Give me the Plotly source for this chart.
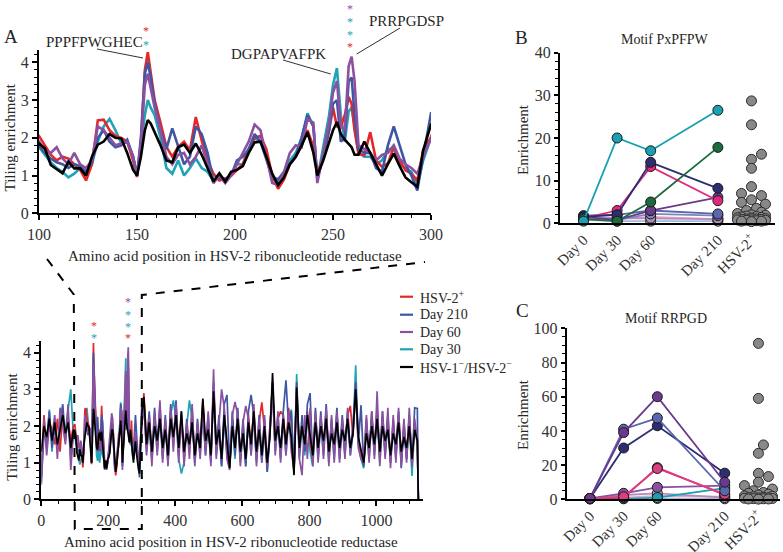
import plotly.graph_objects as go

W, H = 783, 552
FONT = "Liberation Serif"
TXT = "#262626"

# ---------------- Panel A data: tiling enrichment along HSV-2 ribonucleotide reductase ----------------
pos_start = [0, 8, 16, 24, 32, 40, 48, 56, 64, 72, 80, 88, 96]
pos_zoom = [100, 103, 106, 109, 112, 115, 118, 121, 124, 127, 130, 133, 136, 139, 142, 145, 148, 150, 152, 154,
            155.5, 157, 159, 162, 165, 168, 171, 174, 177, 180, 183, 186, 189, 192, 195, 198, 201, 204, 207, 210,
            213, 216, 219, 222, 225, 228, 231, 234, 237, 240, 242, 245, 248, 250, 252, 254, 256, 258, 259.5, 261,
            263, 266, 269, 272, 275, 278, 281, 284, 287, 290, 293, 296, 300]
pos_rest = list(range(306, 1123, 8)) + [1125]

red_start = [0.9, 2.3, 1.4, 2.1, 1.9, 1.5, 2.2, 1.3, 2.4, 1.7, 2.2, 1.6, 2.0]
red_zoom = [2.05, 1.8, 1.55, 1.4, 1.5, 1.45, 1.3, 1.15, 0.87, 1.3, 2.46, 2.48, 2.2, 2.05, 2.0, 1.9, 1.4, 0.96, 1.9, 3.79,
            4.27, 3.7, 3.0, 2.4, 1.76, 1.5, 1.76, 1.9, 1.67, 2.55, 1.93, 1.4, 1.05, 0.87, 0.92, 1.0, 1.15, 1.3, 1.7, 2.0,
            2.05, 1.7, 1.0, 0.65, 0.9, 1.3, 1.5, 1.8, 2.2, 1.76, 1.05, 1.5, 2.2, 2.8, 2.3, 2.3, 2.6, 3.08, 2.9, 2.2,
            1.58, 1.54, 2.15, 1.4, 1.23, 1.32, 1.76, 1.4, 1.14, 1.05, 0.87, 1.67, 2.02]
red_rest = [2.9, 1.6, 2.3, 1.2, 2.2, 1.5, 2.4, 1.3, 2.1, 1.1, 2.4, 1.6, 2.5, 1.3, 2.2, 1.2, 2.0, 1.4, 2.3, 1.1,
            2.0, 1.5, 2.7, 1.4, 2.1, 1.1, 3.1, 1.4, 2.1, 1.0, 2.4, 1.3, 0.9, 2.2, 1.3, 2.4, 1.2, 2.0, 1.0, 2.3,
            1.4, 2.5, 1.2, 2.1, 2.65, 1.9, 0.9, 1.8, 3.2, 1.5, 2.2, 2.4, 2.3, 1.4, 2.5, 1.6, 0.8, 3.1, 1.3, 2.1,
            1.4, 2.4, 1.6, 1.1, 2.3, 1.3, 2.2, 1.5, 2.4, 1.2, 2.0, 1.4, 2.3, 1.3, 2.1, 1.5, 2.3, 2.55, 1.7, 3.1,
            1.6, 1.2, 0.95, 2.0, 1.3, 2.2, 1.4, 2.4, 1.2, 2.2, 1.5, 2.1, 1.1, 2.0, 1.4, 2.3, 1.2, 1.9, 1.3, 2.2,
            1.0, 2.0, 1.7, 0.0]

blue_start = [0.6, 1.9, 1.5, 2.4, 1.4, 2.0, 1.3, 2.1, 2.6, 1.6, 2.3, 1.1, 1.8]
blue_zoom = [1.8, 1.6, 1.45, 1.35, 1.3, 1.2, 1.3, 1.25, 1.1, 1.35, 2.0, 2.2, 1.9, 1.75, 1.8, 1.95, 1.5, 1.0, 2.0, 3.7,
             4.0, 3.6, 2.9, 2.2, 1.7, 2.25, 1.75, 1.3, 1.5, 2.3, 2.1, 1.6, 0.85, 0.95, 0.9, 1.0, 1.4, 1.5, 1.7, 2.1,
             1.9, 1.4, 0.95, 0.9, 1.1, 1.3, 1.5, 2.0, 2.6, 2.3, 0.9, 1.5, 2.2, 2.9, 3.0, 1.9, 2.0, 3.5, 3.6, 2.6,
             1.7, 1.6, 1.6, 1.2, 1.1, 1.8, 2.3, 1.8, 1.3, 1.0, 0.6, 1.5, 2.65]
blue_rest = [2.6, 1.4, 2.4, 1.1, 2.5, 1.4, 2.6, 1.2, 2.3, 1.0, 2.6, 1.5, 2.7, 1.2, 2.3, 1.1, 2.2, 1.3, 2.5, 1.0,
             2.2, 1.3, 2.5, 1.3, 2.3, 1.0, 3.2, 1.3, 2.3, 0.9, 2.6, 2.85, 0.9, 2.4, 1.2, 2.5, 1.1, 2.2, 0.9, 2.4,
             2.85, 2.3, 1.1, 2.3, 1.1, 2.2, 0.75, 2.0, 3.0, 1.4, 2.3, 1.2, 2.4, 3.25, 2.0, 2.4, 0.75, 3.2, 1.2, 2.3,
             1.3, 2.6, 2.9, 1.0, 2.5, 1.2, 2.4, 1.3, 2.6, 1.1, 2.2, 1.3, 2.5, 1.2, 2.3, 1.3, 2.4, 1.3, 2.0, 3.2,
             1.5, 2.57, 0.9, 2.2, 1.2, 2.4, 1.3, 2.5, 1.1, 2.4, 1.3, 2.3, 1.0, 2.2, 1.2, 2.4, 0.85, 2.1, 1.1, 2.3,
             0.9, 2.5, 2.48, 0.0]

purple_start = [0.4, 2.2, 1.2, 2.0, 1.7, 2.3, 1.1, 2.5, 2.0, 1.5, 2.6, 0.8, 1.9]
purple_zoom = [1.9, 1.65, 1.6, 1.75, 1.45, 1.3, 1.6, 1.3, 1.2, 1.4, 2.3, 2.2, 2.0, 1.8, 1.85, 1.9, 1.5, 1.0, 1.8, 3.4,
               3.7, 3.3, 2.8, 2.2, 1.5, 1.3, 1.55, 1.6, 1.3, 1.5, 1.8, 1.3, 0.8, 1.0, 0.8, 1.0, 1.3, 1.6, 1.9, 2.35,
               2.2, 1.5, 0.8, 0.75, 1.1, 1.6, 1.8, 1.75, 2.5, 2.4, 0.8, 1.6, 2.4, 3.2, 3.5, 2.3, 2.2, 3.9, 4.15, 3.5,
               1.8, 1.7, 1.6, 1.4, 1.55, 1.6, 1.8, 1.45, 1.3, 1.2, 1.05, 1.5, 2.0]
purple_rest = [2.7, 1.2, 2.2, 0.9, 2.4, 1.2, 2.7, 1.0, 2.2, 0.9, 2.5, 1.3, 2.6, 1.0, 2.4, 0.9, 2.1, 1.1, 2.6, 0.9,
               2.1, 1.1, 2.6, 1.2, 2.4, 0.9, 3.55, 1.1, 2.2, 3.0, 2.5, 1.1, 0.8, 2.3, 2.66, 2.3, 0.9, 2.1, 2.55, 2.2,
               1.2, 2.6, 0.9, 2.2, 1.0, 2.3, 0.9, 1.9, 3.1, 1.2, 2.4, 1.0, 2.3, 1.2, 2.4, 1.3, 0.8, 2.9, 1.1, 0.66,
               2.3, 1.1, 2.5, 0.9, 2.4, 1.0, 2.3, 1.1, 2.5, 0.9, 2.3, 1.0, 2.4, 1.0, 2.2, 1.1, 2.5, 1.2, 1.9, 2.9,
               1.4, 1.1, 1.0, 2.3, 1.0, 2.4, 1.1, 2.95, 0.9, 2.4, 1.1, 2.5, 0.85, 2.3, 1.0, 2.5, 0.9, 2.2, 1.0, 2.5,
               0.9, 2.2, 1.6, 0.0]

teal_start = [0.45, 1.8, 1.6, 2.45, 1.3, 2.2, 1.4, 1.8, 2.2, 1.9, 2.4, 3.0, 1.7]
teal_zoom = [1.75, 1.55, 1.35, 1.2, 1.1, 0.95, 1.05, 1.2, 1.1, 1.3, 1.9, 2.3, 2.5, 2.2, 1.85, 1.9, 1.5, 1.0, 1.8, 2.6,
             3.0, 2.8, 2.6, 2.0, 1.2, 1.05, 1.4, 1.0, 1.2, 1.45, 1.2, 1.1, 0.85, 1.0, 0.85, 1.0, 1.3, 1.3, 1.7, 2.0,
             1.9, 1.5, 0.9, 0.85, 1.0, 1.4, 1.6, 2.0, 2.65, 2.3, 0.9, 1.7, 2.6, 3.4, 3.85, 2.6, 1.9, 2.7, 2.8, 2.3,
             1.6, 1.5, 1.5, 1.3, 1.4, 1.7, 1.7, 1.3, 1.2, 1.1, 0.75, 1.4, 2.0]
teal_rest = [2.75, 1.3, 2.0, 1.1, 2.1, 1.3, 2.3, 1.1, 2.0, 1.0, 2.3, 2.7, 2.2, 1.1, 0.7, 1.0, 2.0, 2.7, 2.2, 1.0,
             1.9, 1.2, 2.4, 1.2, 2.0, 1.0, 3.0, 1.2, 2.0, 0.9, 2.2, 1.2, 0.85, 2.1, 1.1, 2.3, 1.0, 1.9, 0.9, 2.2,
             1.2, 2.3, 1.0, 2.0, 1.0, 1.9, 0.75, 1.7, 3.2, 1.3, 2.1, 1.1, 2.2, 1.2, 2.2, 2.45, 0.7, 3.42, 1.1, 2.0,
             1.2, 2.3, 1.3, 0.9, 2.2, 1.1, 2.1, 1.2, 2.3, 1.0, 2.0, 1.1, 2.2, 1.1, 2.0, 1.2, 2.2, 1.2, 1.8, 3.66,
             1.5, 1.1, 0.85, 2.0, 1.1, 2.2, 1.2, 2.3, 1.0, 2.1, 1.2, 2.0, 1.0, 2.0, 1.1, 2.2, 1.0, 1.9, 1.1, 2.1,
             0.64, 2.0, 1.5, 0.0]

black_start = [1.3, 2.0, 1.7, 2.2, 1.6, 2.1, 1.5, 1.9, 2.3, 1.8, 2.1, 1.4, 1.9]
black_zoom = [1.85, 1.72, 1.28, 1.18, 1.06, 1.37, 1.19, 1.19, 1.0, 1.5, 1.82, 1.9, 2.1, 2.0, 1.98, 1.6, 1.15, 1.0, 1.5, 2.2,
              2.47, 2.38, 2.15, 1.8, 1.4, 1.35, 1.75, 1.82, 1.6, 1.85, 1.55, 1.19, 0.84, 1.06, 0.84, 1.1, 1.15, 1.25, 1.6, 1.88,
              1.9, 1.5, 1.05, 0.75, 0.95, 1.3, 1.5, 1.8, 2.15, 1.6, 1.0, 1.4, 1.9, 2.2, 2.42, 2.1, 1.95, 1.85, 1.75, 1.55,
              1.55, 1.9, 1.6, 1.27, 1.0, 1.3, 1.58, 1.25, 0.95, 0.82, 0.7, 1.67, 2.35]
black_rest = [2.8, 1.5, 2.1, 1.3, 2.0, 1.6, 2.2, 1.4, 1.9, 1.2, 2.2, 1.7, 2.3, 1.4, 2.4, 1.3, 1.8, 1.5, 2.1, 1.2,
              1.8, 1.4, 2.75, 1.6, 1.9, 1.2, 2.95, 1.5, 1.9, 1.1, 2.3, 1.5, 0.85, 2.0, 1.4, 2.2, 1.3, 1.8, 1.1, 2.1,
              1.5, 2.4, 1.3, 1.9, 1.2, 2.0, 1.0, 1.7, 3.45, 1.6, 2.0, 1.4, 2.2, 1.5, 2.1, 1.7, 0.66, 3.05, 1.4, 2.0,
              1.5, 2.3, 1.7, 1.2, 2.1, 1.4, 2.0, 1.6, 2.2, 1.3, 1.8, 1.5, 2.1, 1.4, 1.9, 1.6, 2.2, 1.4, 1.8, 3.0,
              1.7, 1.3, 1.0, 1.8, 1.4, 2.0, 1.5, 2.2, 1.3, 2.0, 1.6, 1.9, 1.2, 1.8, 1.5, 2.1, 1.3, 1.7, 1.4, 2.0,
              1.1, 1.9, 1.6, 0.0]

series_names = ["HSV-2<sup>+</sup>", "Day 210", "Day 60", "Day 30", "HSV-1<sup>\u2212</sup>/HSV-2<sup>\u2212</sup>"]
series_colors = ["#e3272b", "#3f56a4", "#8b50a0", "#1fa3b6", "#000000"]

# ---------------- Panels B and C: per-subject motif enrichment ----------------
day_labels = ["Day 0", "Day 30", "Day 60", "Day 210", "HSV-2<sup>+</sup>"]

b_lightblue = [0.8, 0.5, 0.5, 0.5]
b_lightpink = [1.0, 1.0, 1.5, 1.0]
b_mauve = [1.3, 1.2, 1.2, 1.0]
b_greyblue = [1.0, 0.8, 2.2, 1.8]
b_slate = [1.8, 2.0, 3.0, 2.2]
b_purple = [1.5, 0.8, 3.0, 6.1]
b_magenta = [1.2, 3.0, 13.3, 5.3]
b_navy = [1.5, 2.0, 14.3, 8.2]
b_green = [1.0, 0.5, 5.0, 17.8]
b_teal = [0.5, 20.0, 17.0, 26.5]
b_hsv2 = [28.7, 23.1, 16.2, 15.0, 12.9, 8.6, 7.0, 6.5, 5.5, 4.9, 4.5, 3.5, 3.0, 2.6, 2.3, 2.0, 1.9, 1.7,
          1.6, 1.5, 1.4, 1.3, 1.2, 1.1, 1.0, 1.0, 0.9, 0.9, 0.8, 0.8, 0.7, 0.7, 0.6, 0.5, 0.5, 0.4]

c_lightblue = [0.2, 0.5, 0.5, 0.3]
c_lightpink = [0.5, 1.0, 2.0, 1.5]
c_mauve = [0.5, 2.5, 3.5, 1.0]
c_purple2 = [0.5, 3.5, 7.0, 8.0]
c_teal = [0.3, 0.3, 1.0, 6.5]
c_magenta = [0.3, 1.0, 18.5, 2.5]
c_pink = [0.5, 1.5, 18.0, 3.0]
c_navy = [0.5, 30.0, 43.0, 15.3]
c_slate = [0.5, 41.0, 47.5, 5.0]
c_purple = [0.5, 39.0, 60.0, 10.0]
c_hsv2 = [91.2, 59.0, 31.8, 26.9, 15.2, 13.3, 10.0, 8.0, 6.0, 5.0, 4.0, 3.5, 3.0, 2.5, 2.0, 1.8, 1.5, 1.2,
          1.0, 0.9, 0.8, 0.6, 0.5, 0.4, 0.3, 0.2, 0.2, 0.1]

b_subjects = [(b_lightblue, "#9fbbe0"), (b_lightpink, "#e8a6c6"), (b_mauve, "#b68cba"), (b_greyblue, "#7d86ba"),
              (b_slate, "#5a66ae"), (b_purple, "#6b3a8f"), (b_magenta, "#e2287e"), (b_navy, "#2c2e70"),
              (b_green, "#1c6b3e"), (b_teal, "#1aa0b3")]
c_subjects = [(c_lightblue, "#9fbbe0"), (c_lightpink, "#e8a6c6"), (c_mauve, "#b68cba"), (c_purple2, "#8c4f9f"),
              (c_teal, "#1aa0b3"), (c_magenta, "#e2287e"), (c_pink, "#d8407f"), (c_navy, "#2c2e70"),
              (c_slate, "#5a66ae"), (c_purple, "#6b3a8f")]

# ---------------- layout helpers ----------------
def fx(px):
    return px / W


def fy(py):
    return 1 - py / H


def swarm(values, ypx, xpx, diam=8.5, steps=(0, 5, -5, 10, -10, 14, -14)):
    placed, offs = [], [0.0] * len(values)
    for i in sorted(range(len(values)), key=lambda k: values[k]):
        y = values[i] * ypx
        best, bestd = 0, -1.0
        for s in steps:
            d = min([((s - a) ** 2 + (y - b) ** 2) ** 0.5 for a, b in placed], default=1e9)
            if d >= diam:
                best = s
                break
            if d > bestd:
                best, bestd = s, d
        placed.append((best, y))
        offs[i] = best / xpx
    return offs


fig = go.Figure()

full_pos = pos_start + pos_zoom + pos_rest
full = {
    "teal": teal_start + teal_zoom + teal_rest,
    "red": red_start + red_zoom + red_rest,
    "blue": blue_start + blue_zoom + blue_rest,
    "purple": purple_start + purple_zoom + purple_rest,
    "black": black_start + black_zoom + black_rest,
}
col = {"red": series_colors[0], "blue": series_colors[1], "purple": series_colors[2],
       "teal": series_colors[3], "black": series_colors[4]}

for key in ["teal", "red", "blue", "purple", "black"]:
    fig.add_trace(go.Scatter(x=full_pos, y=full[key], mode="lines", xaxis="x", yaxis="y",
                             line=dict(color=col[key], width=2.6), showlegend=False, hoverinfo="skip"))
for key in ["teal", "red", "blue", "purple", "black"]:
    fig.add_trace(go.Scatter(x=full_pos, y=full[key], mode="lines", xaxis="x2", yaxis="y2",
                             line=dict(color=col[key], width=1.7), showlegend=False, hoverinfo="skip"))

day_x = [0, 1, 2, 4]
hsv_x = 5
for subjects, hsv, xa, ya, ypx, xpx in [(b_subjects, b_hsv2, "x3", "y3", 170.6 / 40, 33.6),
                                        (c_subjects, c_hsv2, "x4", "y4", 171.0 / 100, 33.7)]:
    for vals, c in subjects:
        fig.add_trace(go.Scatter(x=day_x, y=vals, mode="lines+markers", xaxis=xa, yaxis=ya,
                                 line=dict(color=c, width=1.8),
                                 marker=dict(size=10, color=c, line=dict(color="#1a1a1a", width=1)),
                                 cliponaxis=False, showlegend=False))
    offs = swarm(hsv, ypx, xpx)
    fig.add_trace(go.Scatter(x=[hsv_x + o for o in offs], y=hsv, mode="markers", xaxis=xa, yaxis=ya,
                             marker=dict(size=10, color="#888888", line=dict(color="#2a2a2a", width=1)),
                             cliponaxis=False, showlegend=False))

tickfont = dict(family=FONT, size=16, color="#333333")
tickfont_bc = dict(family=FONT, size=15, color="#333333")


def ax(**kw):
    d = dict(showline=True, linecolor="black", linewidth=2, ticks="outside", tickcolor="black", tickwidth=1.6,
             ticklen=5, showgrid=False, zeroline=False, tickfont=tickfont, fixedrange=True, automargin=False)
    d.update(kw)
    return d


def minor(dt):
    return dict(ticks="outside", ticklen=3, tickcolor="black", tickwidth=1.2, dtick=dt, showgrid=False)


layout = dict(
    template="none",
    width=W, height=H, margin=dict(l=0, r=0, t=0, b=0, pad=0), autosize=False,
    paper_bgcolor="white", plot_bgcolor="rgba(0,0,0,0)",
    font=dict(family=FONT, color=TXT),
    showlegend=False,
    xaxis=ax(domain=[fx(39), fx(431)], range=[100, 300], anchor="y",
             tickvals=[100, 150, 200, 250, 300], minor=minor(10)),
    yaxis=ax(domain=[fy(213.3), fy(49.5)], range=[0, 4.34], anchor="x",
             tickvals=[0, 1, 2, 3, 4], minor=minor(0.2)),
    xaxis2=ax(domain=[fx(41.3), fx(422.7)], range=[0, 1138], anchor="y2",
              tickvals=[0, 200, 400, 600, 800, 1000], minor=minor(50)),
    yaxis2=ax(domain=[fy(499.3), fy(340.7)], range=[0, 4.33], anchor="x2",
              tickvals=[0, 1, 2, 3, 4], minor=minor(0.2)),
    xaxis3=ax(domain=[fx(560), fx(775)], range=[-0.7, 5.7], anchor="y3", ticks="", tickfont=tickfont_bc,
              tickvals=day_x + [hsv_x], ticktext=day_labels, tickangle=-45),
    yaxis3=ax(domain=[fy(223.3), fy(52.7)], range=[0, 40], anchor="x3", ticklen=4,
              tickvals=[0, 10, 20, 30, 40], minor=minor(2)),
    xaxis4=ax(domain=[fx(566.7), fx(780)], range=[-0.69, 5.64], anchor="y4", ticks="", tickfont=tickfont_bc,
              tickvals=day_x + [hsv_x], ticktext=day_labels, tickangle=-45),
    yaxis4=ax(domain=[fy(499.3), fy(328.3)], range=[0, 100], anchor="x4", ticklen=4,
              tickvals=[0, 20, 40, 60, 80, 100], minor=minor(5)),
)
fig.update_layout(**layout)


def ann(text, px, py, size=15, color=TXT, xanchor="center", yanchor="middle", angle=0):
    return dict(text=text, x=fx(px), y=fy(py), xref="paper", yref="paper", showarrow=False,
                font=dict(family=FONT, size=size, color=color), xanchor=xanchor, yanchor=yanchor,
                textangle=angle)


red, blue, purple, teal = series_colors[0], series_colors[1], series_colors[2], series_colors[3]
annotations = [
    ann("A", 2, 37, size=19, xanchor="left"),
    ann("B", 521.7, 38, size=19),
    ann("C", 522.7, 310, size=19),
    ann("PPPFPWGHEC", 94, 42, size=15),
    ann("DGPAPVAFPK", 278, 53.5, size=15),
    ann("PRRPGDSP", 406.5, 20.5, size=15),
    ann("Motif PxPFPW", 665, 40, size=14),
    ann("Motif RRPGD", 666, 318.5, size=14),
    ann("Amino acid position in HSV-2 ribonucleotide reductase", 235, 256, size=15),
    ann("Amino acid position in HSV-2 ribonucleotide reductase", 231, 542, size=15),
    ann("Tiling enrichment", 9, 137.5, size=15, angle=-90),
    ann("Tiling enrichment", 12, 426.7, size=15, angle=-90),
    ann("Enrichment", 523, 140, size=15, angle=-90),
    ann("Enrichment", 523, 415, size=15, angle=-90),
]
# significance asterisks
for text_color, px, py in [(red, 145.7, 28), (teal, 145.7, 41.7),
                           (purple, 350, 5.5), (teal, 350, 19.3), (teal, 350, 31.7), (red, 350, 44),
                           (red, 94, 322.7), (teal, 94, 335),
                           (purple, 128.3, 299.3), (teal, 128.3, 311.7), (teal, 128.3, 324.3), (red, 128.3, 335)]:
    annotations.append(ann("*", px, py + 3, size=12, color=text_color))

# legend (custom)
legend_rows = [296.7, 314.7, 332.0, 349.3, 367.0]
shapes = []
for name, c, py in zip(series_names, series_colors, legend_rows):
    annotations.append(ann(name, 418, py, size=14, xanchor="left"))
    shapes.append(dict(type="line", xref="paper", yref="paper", x0=fx(400), x1=fx(413), y0=fy(py), y1=fy(py),
                       line=dict(color=c, width=2.2)))

# leader lines to peptide labels
for (x0, y0, x1, y1) in [(97, 49, 143, 58), (283, 60, 330.7, 74), (400, 28, 356.7, 54)]:
    shapes.append(dict(type="line", xref="paper", yref="paper", x0=fx(x0), y0=fy(y0), x1=fx(x1), y1=fy(y1),
                       line=dict(color="#1a1a1a", width=0.9)))

# dashed zoom connector between full-length and zoomed views
pts = [(47, 259), (73.8, 294.5), (74.8, 529), (141.8, 529), (141.8, 295), (425, 262)]
path = "M " + " L ".join(f"{fx(a):.5f},{fy(b):.5f}" for a, b in pts)
shapes.append(dict(type="path", xref="paper", yref="paper", path=path,
                   line=dict(color="black", width=2, dash="dash")))

fig.update_layout(annotations=annotations, shapes=shapes)
fig.write_html("out.html", config={"displayModeBar": False, "staticPlot": False},
               post_script="document.body.style.margin='0px';document.body.style.overflow='hidden';")
